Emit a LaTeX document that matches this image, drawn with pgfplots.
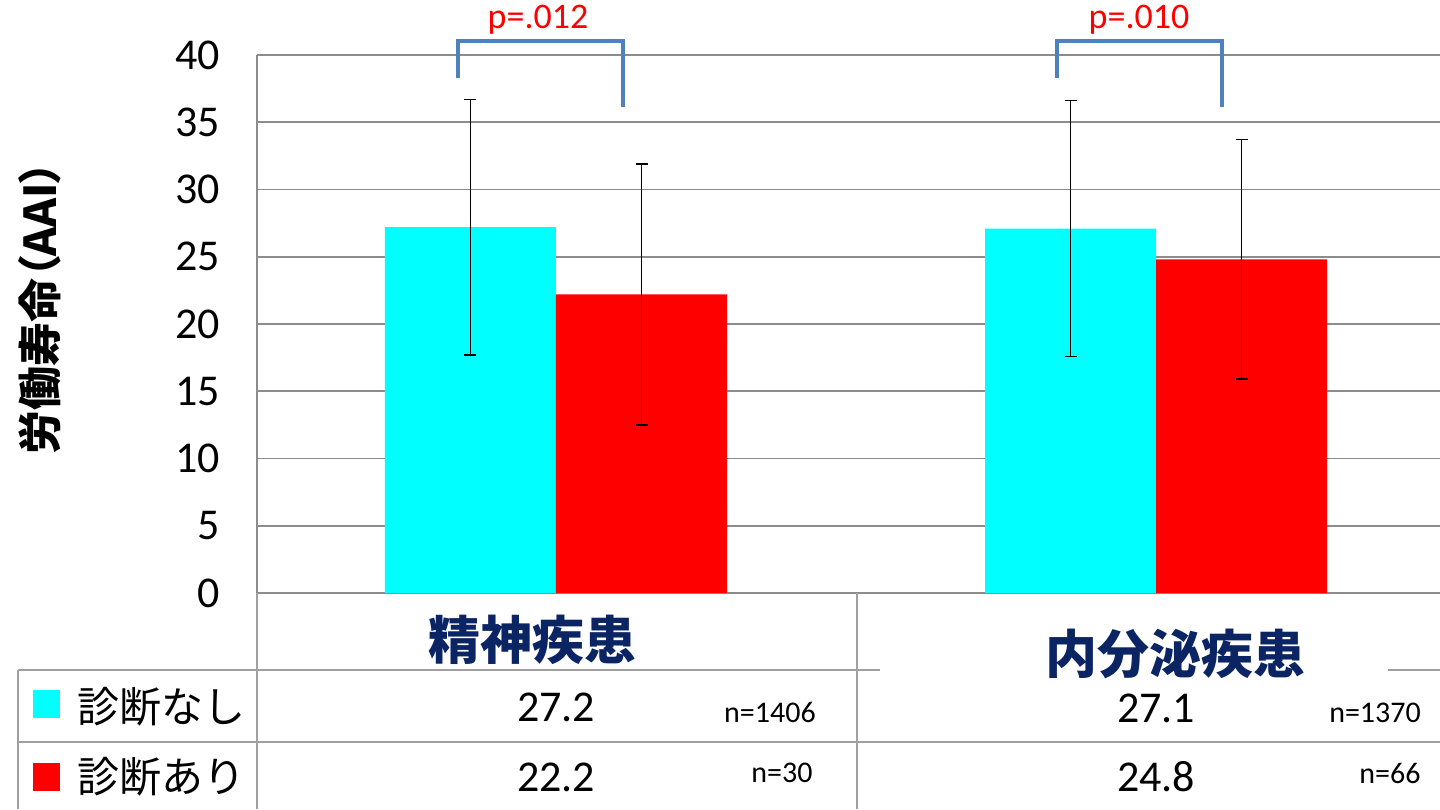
\documentclass[border=0pt]{standalone}
\usepackage{fontspec}
\setmainfont{Carlito}
\newfontfamily\jp{Noto Sans CJK JP}
\newfontfamily\jpp{Noto Sans CJK JP}[RawFeature=+palt]
\usepackage{pgfplots}
\pgfplotsset{compat=1.18}
\definecolor{gridgray}{HTML}{8C8C8C}
\definecolor{tabgray}{HTML}{A0A0A0}
\definecolor{brack}{HTML}{4F81BD}
\definecolor{navy}{HTML}{0B2463}
\definecolor{barcyan}{HTML}{00FFFF}
\definecolor{barred}{HTML}{FF0000}
\begin{document}
\begin{tikzpicture}[x=0.5pt,y=-0.5pt]
\useasboundingbox (0,0) rectangle (1440,809);
\begin{axis}[
    at={(128.5pt,-296.5pt)}, anchor=south west,
    scale only axis, width=591.5pt, height=269pt,
    xmin=-0.4983, xmax=1.4733, ymin=0, ymax=40,
    xtick=\empty, ytick={0,5,...,40},
    axis lines*=left,
    axis line style={draw=gridgray, line width=0.8pt},
    ymajorgrids, grid style={draw=gridgray, line width=0.8pt},
    major tick length=0pt,
    /pgf/number format/assume math mode=true,
    yticklabel style={font=\fontsize{22}{22}\selectfont, xshift=-15pt},
    ybar, bar width=0.285,
    clip=false,
]
\addplot[fill=barcyan, draw=none, bar shift=0pt,
    error bars/.cd, y dir=both, y explicit,
    error bar style={black, line width=0.75pt},
    error mark options={black, rotate=90, mark size=3pt, line width=0.75pt}]
    coordinates {(-0.1425,27.2) +- (0,9.5) (0.8575,27.1) +- (0,9.5)};
\addplot[fill=barred, draw=none, bar shift=0pt,
    error bars/.cd, y dir=both, y explicit,
    error bar style={black, line width=0.75pt},
    error mark options={black, rotate=90, mark size=3pt, line width=0.75pt}]
    coordinates {(0.1425,22.2) +- (0,9.7) (1.1425,24.8) +- (0,8.9)};
\end{axis}
% significance brackets
\draw[brack, line width=1.6pt] (458,78) -- (458,41) -- (623,41) -- (623,107);
\draw[brack, line width=1.6pt] (1057,78) -- (1057,41) -- (1222,41) -- (1222,107);
\node[barred, font=\fontsize{18}{18}\selectfont] at (538,20) {p=.012};
\node[barred, font=\fontsize{18}{18}\selectfont] at (1139,20) {p=.010};
% y label
\node[rotate=90, font=\jpp\bfseries\fontsize{22}{22}\selectfont] at (40,308) {労働寿命（AAI）};
% table
\draw[tabgray, line width=1pt] (257,593) -- (257,809);
\draw[tabgray, line width=1pt] (857,593) -- (857,809);
\draw[tabgray, line width=1pt] (18,670) -- (1440,670);
\draw[tabgray, line width=1pt] (18,742) -- (1440,742);
\draw[tabgray, line width=1pt] (18,670) -- (18,809);
\fill[white] (880,660) rectangle (1388,680);
\node[navy, font=\jp\bfseries\fontsize{26}{26}\selectfont] at (532,640) {精神疾患};
\node[navy, font=\jp\bfseries\fontsize{26}{26}\selectfont] at (1175,654) {内分泌疾患};
\fill[barcyan] (33,690) rectangle (60,718);
\fill[barred] (33,763) rectangle (60,791);
\node[anchor=west, font=\jp\fontsize{21}{21}\selectfont] at (70,707) {診断なし};
\node[anchor=west, font=\jp\fontsize{21}{21}\selectfont] at (70,777) {診断あり};
\node[font=\fontsize{22}{22}\selectfont] at (556,707) {27.2};
\node[font=\fontsize{22}{22}\selectfont] at (556,777) {22.2};
\node[font=\fontsize{22}{22}\selectfont] at (1156,708) {27.1};
\node[font=\fontsize{22}{22}\selectfont] at (1156,777) {24.8};
\node[font=\fontsize{15}{15}\selectfont] at (770,712) {n=1406};
\node[font=\fontsize{15}{15}\selectfont] at (782,773) {n=30};
\node[font=\fontsize{15}{15}\selectfont] at (1375,713) {n=1370};
\node[font=\fontsize{15}{15}\selectfont] at (1390,773) {n=66};
\end{tikzpicture}
\end{document}
